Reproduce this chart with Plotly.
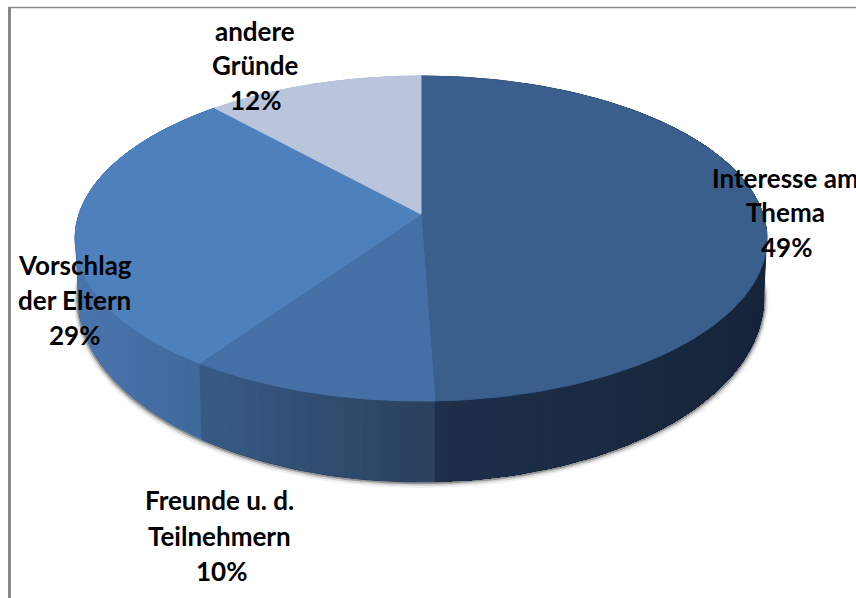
import numpy as np
import plotly.graph_objects as go

# --- data
categories = ["Interesse am Thema", "Freunde u. d. Teilnehmern", "Vorschlag der Eltern", "andere Gründe"]
values = [49.45, 10.15, 28.7, 11.7]

# --- styling
top_colors = ["#3a5f8c", "#4470a5", "#4e80bc", "#b8c5dc"]
# wall shade at the (left, right) end of each slice on screen
wall_colors = [("#1e304a", "#15243a"), ("#375b86", "#2a405c"), ("#4875ac", "#3f6899"), ("#b8c5dc", "#b8c5dc")]

W, H = 856, 598
K = 0.151
TOP = dict(cx=421, cy=214, R=342, S=158.8)
LOW = dict(cx=421, cy=270, R=339, S=180)


def project(theta, p):
    u, v = np.sin(theta), np.cos(theta)
    d = 1 + K * v
    return p["cx"] + p["R"] * u / d, p["cy"] - p["S"] * v / d


def lerp_hex(a, b, t):
    ca = [int(a[i:i + 2], 16) for i in (1, 3, 5)]
    cb = [int(b[i:i + 2], 16) for i in (1, 3, 5)]
    return "rgb(" + ",".join(str(round(x + (y - x) * t)) for x, y in zip(ca, cb)) + ")"


def poly(x, y, color, width=1):
    return go.Scatter(x=x, y=y, mode="lines", fill="toself", fillcolor=color,
                      line=dict(color=color, width=width), hoverinfo="skip", showlegend=False)


fig = go.Figure()
edges = np.cumsum([0] + values) / sum(values) * 2 * np.pi

# soft shadow below the lower rim
th = np.linspace(np.radians(70), np.radians(290), 300)
sx, sy = project(th, LOW)
for off, wid, col in [(3.0, 6, "rgba(0,0,0,0.06)"), (2.0, 4, "rgba(0,0,0,0.12)"), (1.0, 2.5, "rgba(0,0,0,0.28)")]:
    fig.add_trace(go.Scatter(x=sx + off * np.sign(sx - 421) * 0.6, y=sy + off, mode="lines",
                             line=dict(color=col, width=wid), hoverinfo="skip", showlegend=False))

# side wall: painted strip over strip, each running on to the end of its slice, so no seams show
for i in range(len(values)):
    a, b = edges[i], edges[i + 1]
    n = max(2, int((b - a) / np.radians(2.5)))
    ts = np.linspace(a, b, n + 1)
    xs_all = project(ts, LOW)[0]
    lo, hi = xs_all.min(), xs_all.max()
    left, right = wall_colors[i]
    for j in range(n):
        seg = np.linspace(ts[j], b, 2 * (n - j) + 1)
        ux, uy = project(seg, TOP)
        lx, ly = project(seg, LOW)
        mid = (project(np.array([ts[j], ts[j + 1]]), LOW)[0].mean() - lo) / max(hi - lo, 1)
        col = lerp_hex(left, right, float(mid))
        width = 1 if j == 0 else 0
        fig.add_trace(poly(list(ux) + list(lx[::-1]), list(uy) + list(ly[::-1]), col, width))

# top face
for i in range(len(values)):
    ts = np.linspace(edges[i], edges[i + 1], 160)
    x, y = project(ts, TOP)
    fig.add_trace(poly([TOP["cx"]] + list(x) + [TOP["cx"]], [TOP["cy"]] + list(y) + [TOP["cy"]], top_colors[i]))

# labels: one line per annotation, because the line pitch is wider than Plotly's default
pct = [f"{round(v)}%" for v in values]
label_lines = [
    (["Interesse am", "Thema", pct[0]], [785, 785, 786], [178, 212, 247]),
    (["Freunde u. d.", "Teilnehmern", pct[1]], [219, 219, 221], [500, 536, 571]),
    (["Vorschlag", "der Eltern", pct[2]], [75, 74, 74], [265, 300, 335]),
    (["andere", "Gründe", pct[3]], [255, 255, 255], [31, 65, 100]),
]
anns = []
for lines, xs, ys in label_lines:
    for t, x, y in zip(lines, xs, ys):
        anns.append(dict(x=x, y=y, xref="x", yref="y", text=f"<b>{t}</b>", showarrow=False,
                         xanchor="center", yanchor="middle",
                         font=dict(family="Lato", size=26, color="#000000")))

shapes = [
    dict(type="line", xref="x", yref="y", x0=9.5, x1=9.5, y0=7, y1=H, line=dict(color="#888888", width=3)),
    dict(type="line", xref="x", yref="y", x0=8, x1=W, y0=7.5, y1=7.5, line=dict(color="#888888", width=1.5)),
]

fig.update_layout(
    width=W, height=H, margin=dict(l=0, r=0, t=0, b=0),
    paper_bgcolor="#ffffff", plot_bgcolor="#ffffff", showlegend=False,
    xaxis=dict(range=[0, W], visible=False, fixedrange=True),
    yaxis=dict(range=[H, 0], visible=False, fixedrange=True),
    annotations=anns, shapes=shapes,
)
fig.write_html("out.html", config={"displayModeBar": False},
               post_script="document.body.style.margin='0';document.body.style.overflow='hidden';")
